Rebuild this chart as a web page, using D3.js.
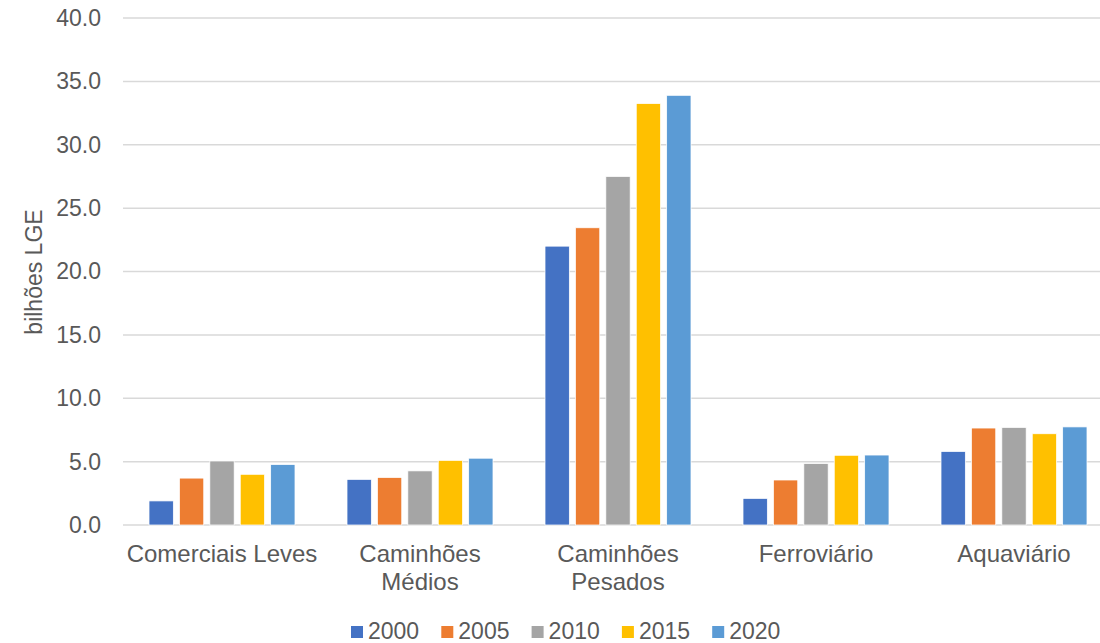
<!DOCTYPE html>
<html><head><meta charset="utf-8">
<script src="https://cdn.jsdelivr.net/npm/d3@7"></script>
<style>
html,body{margin:0;padding:0;background:#fff;}
svg{display:block;font-family:"Liberation Sans",Arial,sans-serif;}
</style></head>
<body>
<svg id="chart" width="1100" height="643"></svg>
<script>
const categories = [["Comerciais Leves"],["Caminhões","Médios"],["Caminhões","Pesados"],["Ferroviário"],["Aquaviário"]];
const seriesNames = ["2000","2005","2010","2015","2020"];
const colors = ["#4472C4","#ED7D31","#A5A5A5","#FFC000","#5B9BD5"];
const v2000 = [1.9, 3.6, 22.0, 2.1, 5.8];
const v2005 = [3.7, 3.75, 23.45, 3.55, 7.65];
const v2010 = [5.05, 4.27, 27.5, 4.85, 7.7];
const v2015 = [4.0, 5.1, 33.25, 5.5, 7.2];
const v2020 = [4.77, 5.27, 33.9, 5.52, 7.74];
const yTicks = [0,5,10,15,20,25,30,35,40];
const yTitle = "bilhões LGE";

(function(){
const seriesValues = [v2000,v2005,v2010,v2015,v2020];
const svg = d3.select("#chart");
const pLeft = 123, pRight = 1113, pTop = 18, pBottom = 525;
const txt = "#595959";

const y = d3.scaleLinear().domain([0,40]).range([pBottom, pTop]);
const catKeys = categories.map(c => c.join(" "));
const x0 = d3.scaleBand().domain(catKeys).range([pLeft, pRight]).paddingInner(0.232).paddingOuter(0.116);
const x1 = d3.scaleBand().domain(seriesNames).range([0, x0.bandwidth()]).paddingInner(0.2).paddingOuter(0.1);

svg.append("g").selectAll("line").data(yTicks).join("line")
  .attr("x1", pLeft).attr("x2", pRight)
  .attr("y1", d => y(d)).attr("y2", d => y(d))
  .attr("stroke", "#d9d9d9").attr("stroke-width", 1.5);

const yAxis = d3.axisLeft(y).tickValues(yTicks).tickFormat(d3.format(".1f")).tickSize(0).tickPadding(0);
const ya = svg.append("g").attr("transform", `translate(101,0)`).call(yAxis);
ya.select(".domain").remove();
ya.selectAll("text").attr("fill", txt).style("font-size", "23px").attr("font-family", "Liberation Sans, Arial, sans-serif");

const groups = svg.append("g").selectAll("g").data(catKeys).join("g")
  .attr("transform", d => `translate(${x0(d)},0)`);
groups.selectAll("rect").data((d,i) => seriesNames.map((s,j) => ({s, v: seriesValues[j][i], c: colors[j]})))
  .join("rect")
  .attr("x", d => x1(d.s)).attr("width", x1.bandwidth())
  .attr("y", d => y(d.v)).attr("height", d => y(0) - y(d.v))
  .attr("fill", d => d.c).attr("stroke", "#fff").attr("stroke-width", 0.75);

const xl = svg.append("g");
categories.forEach((lines, i) => {
  const cx = x0(catKeys[i]) + x0.bandwidth()/2;
  const t = xl.append("text").attr("text-anchor","middle").attr("fill", txt).style("font-size","24px");
  lines.forEach((ln, k) => t.append("tspan").attr("x", cx).attr("y", 562 + k*28).text(ln));
});

svg.append("text").attr("transform", "translate(42,272) rotate(-90)")
  .attr("text-anchor","middle").attr("fill", txt).style("font-size","23px").text(yTitle);

const lg = svg.append("g");
seriesNames.forEach((s, i) => {
  const lx = 351 + i*90.3;
  lg.append("rect").attr("x", lx).attr("y", 626).attr("width", 12).attr("height", 12).attr("fill", colors[i]);
  lg.append("text").attr("x", lx + 17).attr("y", 639).attr("fill", txt).style("font-size","23px").text(s);
});
})();
</script>
</body></html>
